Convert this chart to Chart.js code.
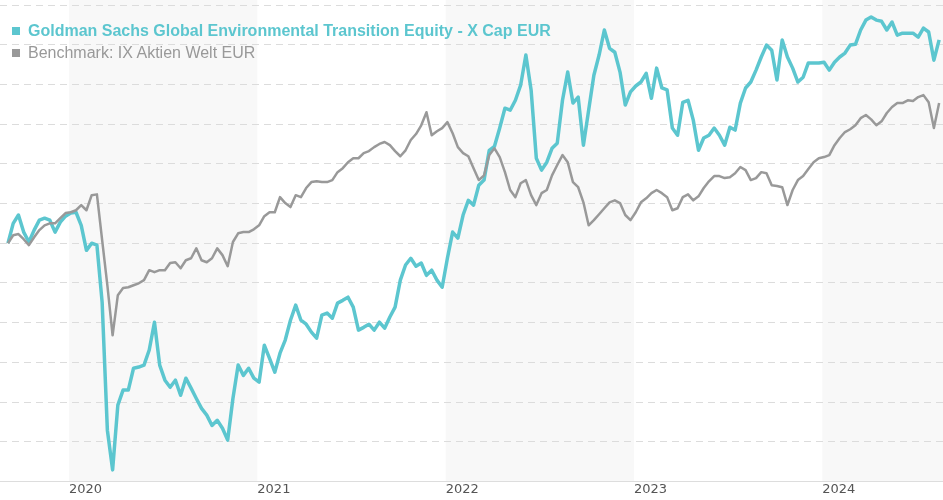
<!DOCTYPE html>
<html>
<head>
<meta charset="utf-8">
<script src="https://cdn.jsdelivr.net/npm/chart.js@4.4.1/dist/chart.umd.min.js"></script>
<style>
  body { margin: 0; background: #fff; }
  #wrap { position: relative; width: 943px; height: 500px; }
  .legend { position: absolute; left: 12px; font-family: "Liberation Sans", Arial, sans-serif; font-size: 16px; line-height: 22px; white-space: nowrap; }
  .legend span.box { display: inline-block; width: 8px; height: 8px; margin-right: 8px; vertical-align: 1px; }
  #leg1 { top: 20px; color: #5cc6cf; font-weight: bold; }
  #leg1 .box { background: #5cc6cf; }
  #leg2 { top: 42px; color: #999; }
  #leg2 .box { background: #999; }
</style>
</head>
<body>
<div id="wrap">
  <canvas id="chart" width="943" height="500"></canvas>
  <div class="legend" id="leg1"><span class="box"></span>Goldman Sachs Global Environmental Transition Equity - X Cap EUR</div>
  <div class="legend" id="leg2"><span class="box"></span>Benchmark: IX Aktien Welt EUR</div>
</div>
<script>
// indexed performance, first point = 100, one point every ~10 days
const fundName = 'Goldman Sachs Global Environmental Transition Equity - X Cap EUR';
const benchName = 'Benchmark: IX Aktien Welt EUR';

const startYear = 2019.676;
const stepYear = 1 / 36;

const fundValues = [
  100.0, 105.0, 107.1, 102.8, 100.3, 103.3, 105.8, 106.3, 105.8, 102.8,
  105.3, 106.8, 107.6, 107.8, 104.5, 98.2, 100.0, 99.5, 85.1, 52.9,
  42.9, 59.2, 63.0, 63.0, 68.5, 68.8, 69.3, 73.1, 80.1, 69.3,
  65.5, 63.7, 65.5, 61.7, 66.0, 63.5, 60.9, 58.4, 56.7, 54.1,
  55.4, 53.4, 50.4, 60.9, 69.3, 66.7, 68.5, 66.0, 65.0, 74.3,
  71.0, 67.5, 72.3, 75.6, 80.6, 84.4, 80.6, 79.6, 77.6, 76.1,
  81.9, 82.4, 81.1, 84.9, 85.6, 86.4, 83.9, 78.1, 78.8, 79.6,
  78.1, 80.1, 78.6, 81.4, 83.9, 90.7, 94.5, 96.2, 94.2, 95.0,
  91.9, 93.2, 90.7, 88.9, 96.2, 102.8, 101.3, 107.1, 110.8, 109.6,
  114.6, 115.9, 123.4, 124.4, 129.0, 134.0, 133.5, 136.0, 139.8, 147.4,
  138.6, 121.4, 118.4, 120.4, 123.9, 125.2, 136.0, 143.1, 135.3, 136.8,
  124.7, 133.5, 142.3, 147.4, 153.7, 149.1, 148.1, 143.1, 134.8, 138.1,
  139.6, 140.6, 142.8, 136.5, 144.1, 139.1, 138.6, 129.0, 127.2, 135.5,
  136.0, 131.0, 123.4, 126.5, 127.2, 129.0, 127.2, 124.7, 129.2, 128.5,
  135.3, 139.1, 140.6, 143.6, 146.9, 149.9, 148.6, 141.1, 151.2, 146.9,
  144.1, 140.6, 141.8, 145.4, 145.4, 145.4, 145.6, 143.6, 145.6, 146.9,
  147.9, 149.9, 150.1, 153.7, 156.2, 157.0, 156.2, 155.9, 153.7, 155.7,
  152.4, 152.9, 152.9, 152.9, 151.9, 154.2, 153.2, 146.1, 151.2
];

const benchValues = [
  100.0, 102.0, 102.3, 101.0, 99.5, 101.5, 103.3, 104.5, 105.0, 105.0,
  106.3, 107.6, 107.8, 108.3, 109.6, 108.3, 112.1, 112.3, 100.8, 89.4,
  76.8, 86.9, 88.7, 88.9, 89.4, 89.9, 90.7, 93.2, 92.7, 93.2,
  93.2, 95.0, 95.2, 93.7, 95.7, 96.2, 98.7, 95.7, 95.2, 96.2,
  98.7, 97.0, 94.2, 100.3, 102.5, 102.8, 102.8, 103.5, 104.5, 106.8,
  107.8, 107.8, 111.6, 110.1, 109.1, 112.1, 111.6, 113.9, 115.4, 115.6,
  115.4, 115.4, 115.9, 117.9, 118.9, 120.4, 121.4, 121.4, 122.7, 123.2,
  124.2, 125.0, 125.5, 124.7, 123.2, 121.9, 123.4, 126.0, 127.5, 129.7,
  133.0, 127.2, 128.2, 129.0, 130.5, 127.7, 124.2, 122.7, 121.9, 118.9,
  115.9, 117.1, 122.2, 123.9, 121.7, 117.9, 113.4, 111.6, 115.1, 115.9,
  112.1, 109.6, 112.6, 113.4, 117.1, 119.7, 122.2, 120.4, 115.4, 114.1,
  110.3, 104.5, 105.8, 107.3, 108.8, 110.3, 110.8, 110.1, 107.1, 105.8,
  107.8, 110.3, 111.3, 112.6, 113.4, 112.6, 111.6, 108.3, 108.8, 111.6,
  112.3, 110.8, 111.8, 113.9, 115.6, 116.9, 116.9, 116.4, 116.6, 117.6,
  119.2, 118.4, 115.9, 116.4, 117.9, 117.6, 114.6, 114.4, 114.1, 109.6,
  113.4, 115.9, 116.9, 118.7, 120.4, 121.4, 121.7, 122.2, 124.7, 126.5,
  128.0, 128.7, 129.7, 131.5, 132.3, 131.2, 129.7, 130.7, 132.8, 134.3,
  135.3, 135.3, 136.0, 135.8, 136.8, 137.3, 135.5, 129.0, 135.3
];

const yearTicks = [2020, 2021, 2022, 2023, 2024];
const shadedYears = [2020, 2022, 2024];

const toPoints = vals => vals.map((v, i) => ({ x: startYear + i * stepYear, y: v }));

// light grey background band for every other year
const yearBands = {
  id: 'yearBands',
  beforeDraw(chart) {
    const { ctx, chartArea, scales } = chart;
    ctx.save();
    ctx.fillStyle = '#f8f8f8';
    shadedYears.forEach(yr => {
      const x0 = Math.max(scales.x.getPixelForValue(yr), chartArea.left);
      const x1 = Math.min(scales.x.getPixelForValue(yr + 1), chartArea.right);
      ctx.fillRect(x0, 0, x1 - x0, chartArea.bottom);
    });
    ctx.restore();
  }
};

const ctx = document.getElementById('chart').getContext('2d');
const chart = new Chart(ctx, {
  type: 'line',
  data: {
    datasets: [
      {
        label: benchName,
        data: toPoints(benchValues),
        borderColor: '#999999',
        borderWidth: 2.5,
        borderJoinStyle: 'round',
        pointRadius: 0,
        tension: 0,
        order: 0
      },
      {
        label: fundName,
        data: toPoints(fundValues),
        borderColor: '#5cc6cf',
        borderWidth: 3.5,
        borderJoinStyle: 'round',
        pointRadius: 0,
        tension: 0,
        order: 1
      }
    ]
  },
  options: {
    responsive: false,
    animation: false,
    devicePixelRatio: 1,
    layout: { padding: { top: 5, left: 0, right: 0, bottom: 3 } },
    plugins: {
      legend: { display: false },
      tooltip: { enabled: false }
    },
    scales: {
      x: {
        type: 'linear',
        min: 2019.6336,
        max: 2024.641,
        afterBuildTicks: axis => { axis.ticks = yearTicks.map(v => ({ value: v })); },
        grid: { display: false, drawTicks: false },
        border: { display: true, color: '#dddddd', width: 1 },
        ticks: {
          align: 'start',
          padding: 0,
          maxRotation: 0,
          autoSkip: false,
          color: '#555',
          font: { family: 'DejaVu Sans', size: 13 },
          callback: v => String(v)
        }
      },
      y: {
        min: 40,
        max: 160,
        ticks: { display: false, stepSize: 10 },
        grid: {
          drawTicks: false,
          lineWidth: 1,
          color: c => (c.tick && c.tick.value === 40 ? 'rgba(0,0,0,0)' : '#dcdcdc')
        },
        border: { display: false, dash: [7, 5] }
      }
    }
  },
  plugins: [yearBands]
});
</script>
</body>
</html>
